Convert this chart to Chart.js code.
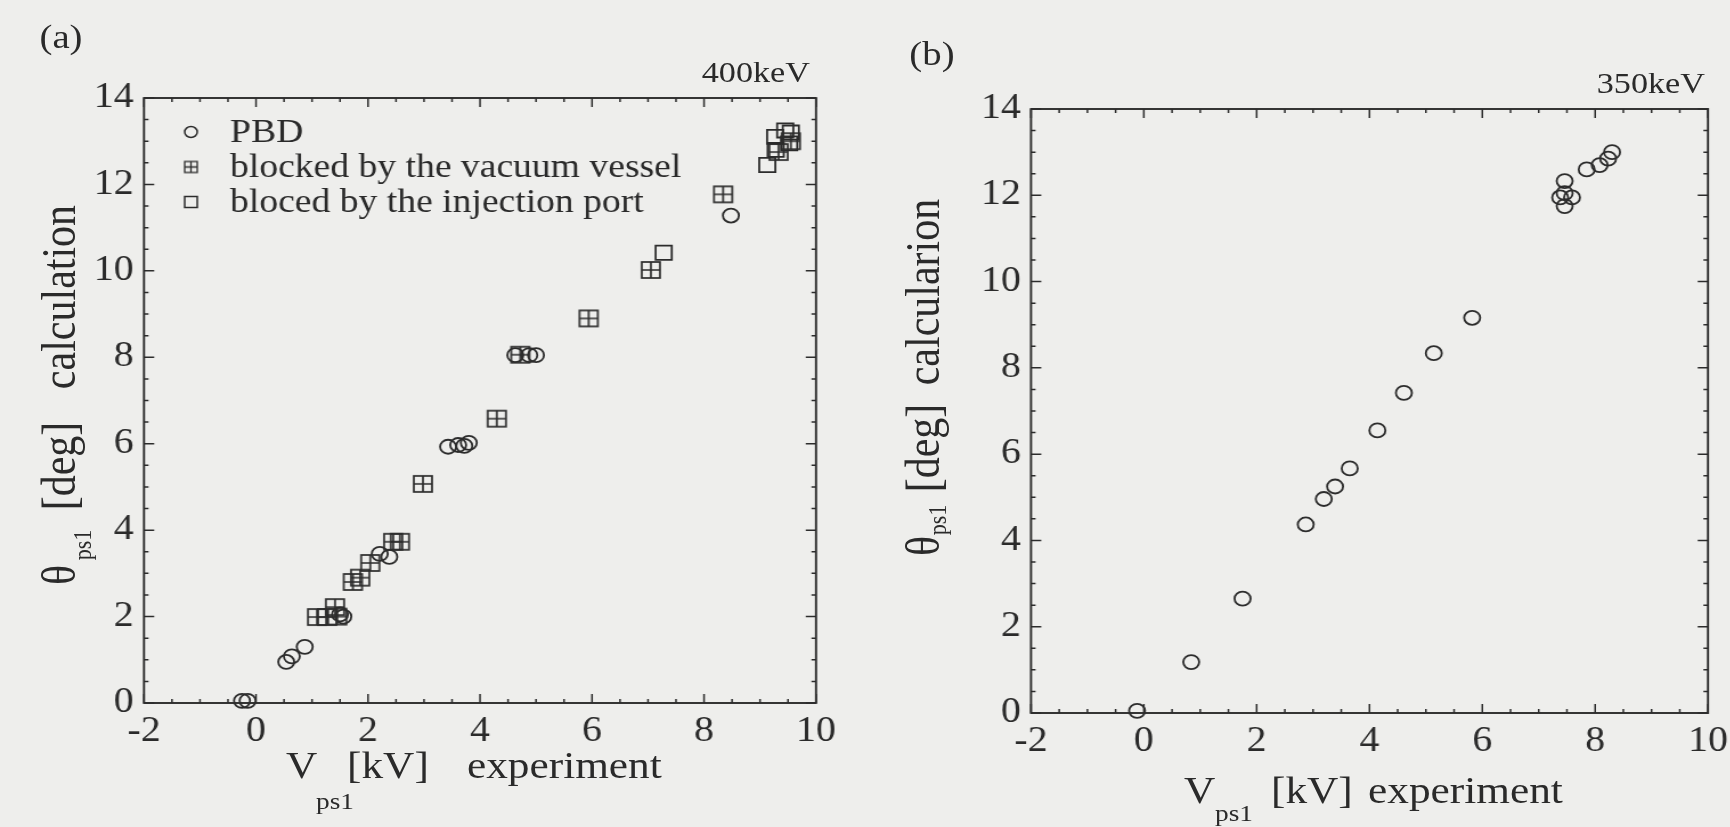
<!DOCTYPE html>
<html>
<head>
<meta charset="utf-8">
<script src="https://cdn.jsdelivr.net/npm/chart.js@4.4.1/dist/chart.umd.min.js"></script>
<style>
html, body { margin: 0; padding: 0; background: #eeeeec; overflow: hidden; }
#wrap { position: absolute; left: 0; top: 0; width: 1518px; height: 827px;
        transform: scaleX(1.14); transform-origin: 0 0;
        font-family: 'Liberation Serif', 'DejaVu Serif', serif; color: #2a2a2a; }
#wrap canvas { position: absolute; top: 0; }
.t { position: absolute; line-height: 1; white-space: nowrap; }
.cc { transform: translate(-50%, -50%); }
.lc { transform: translate(0, -50%); }
.rc { transform: translate(-100%, -50%); }
.rot { transform: translate(-50%, -50%) rotate(-90deg); }
</style>
</head>
<body>
<div id="wrap">
  <canvas id="chartA" width="760" height="827" style="left:0"></canvas>
  <canvas id="chartB" width="780" height="827" style="left:760px"></canvas>

  <div class="t cc" style="left:53.5px; top:37px; font-size:34px">(a)</div>
  <div class="t cc" style="left:817.5px; top:54px; font-size:34px">(b)</div>
  <div class="t rc" style="left:710.5px; top:72px; font-size:30px">400keV</div>
  <div class="t rc" style="left:1495.6px; top:83px; font-size:30px">350keV</div>

  <!-- x titles -->
  <div class="t lc" style="left:250.9px; top:765px; font-size:38px">V</div>
  <div class="t lc" style="left:277.2px; top:801px; font-size:24px">ps1</div>
  <div class="t lc" style="left:304.4px; top:765px; font-size:38px">[kV]</div>
  <div class="t lc" style="left:409.6px; top:765px; font-size:38px">experiment</div>

  <div class="t lc" style="left:1038.6px; top:790px; font-size:38px">V</div>
  <div class="t lc" style="left:1065.8px; top:813px; font-size:24px">ps1</div>
  <div class="t lc" style="left:1114.9px; top:790px; font-size:38px">[kV]</div>
  <div class="t lc" style="left:1200px; top:790px; font-size:38px">experiment</div>

  <!-- y titles -->
  <div class="t rot" style="left:51.6px; top:575px; font-size:42px">θ</div>
  <div class="t rot" style="left:73.3px; top:545px; font-size:22px">ps1</div>
  <div class="t rot" style="left:51.6px; top:466px; font-size:42px">[deg]</div>
  <div class="t rot" style="left:51.6px; top:296.5px; font-size:42px">calculation</div>

  <div class="t rot" style="left:810.4px; top:546px; font-size:42px">θ</div>
  <div class="t rot" style="left:823.3px; top:520px; font-size:22px">ps1</div>
  <div class="t rot" style="left:810.4px; top:448px; font-size:42px">[deg]</div>
  <div class="t rot" style="left:810.4px; top:291.5px; font-size:42px">calcularion</div>
</div>

<script>
// axes
const xTicks = [-2, 0, 2, 4, 6, 8, 10];
const yTicks = [0, 2, 4, 6, 8, 10, 12, 14];

// (a) 400keV
const pbdAX = [-0.25, -0.15, 0.54, 0.64, 0.87, 1.50, 1.56, 2.21, 2.38, 3.43, 3.61, 3.72, 3.80, 4.63, 4.88, 5.00, 8.48];
const pbdAY = [0.05, 0.05, 0.95, 1.08, 1.30, 2.05, 2.00, 3.45, 3.38, 5.93, 5.97, 5.95, 6.02, 8.05, 8.05, 8.05, 11.28];
const vesselAX = [1.09, 1.27, 1.45, 1.41, 1.73, 1.86, 2.04, 2.45, 2.57, 2.98, 4.30, 4.72, 5.94, 7.05, 8.34, 9.33, 9.55];
const vesselAY = [1.99, 1.99, 2.00, 2.22, 2.80, 2.90, 3.24, 3.73, 3.73, 5.07, 6.58, 8.06, 8.90, 10.02, 11.77, 12.75, 13.00];
const portAX = [7.28, 9.13, 9.28, 9.27, 9.45, 9.55, 9.52];
const portAY = [10.42, 12.45, 12.80, 13.10, 13.25, 13.20, 12.95];

// (b) 350keV
const pbdBX = [-0.12, 0.84, 1.75, 2.87, 3.19, 3.39, 3.65, 4.14, 4.61, 5.14, 5.82, 7.46, 7.46, 7.38, 7.59, 7.46, 7.85, 8.08, 8.23, 8.30];
const pbdBY = [0.05, 1.18, 2.65, 4.37, 4.96, 5.25, 5.67, 6.55, 7.42, 8.34, 9.16, 12.33, 12.05, 11.95, 11.95, 11.75, 12.60, 12.70, 12.85, 13.00];

const legendLabels = ['PBD', 'blocked by the vacuum vessel', 'bloced by the injection port'];

const ink = '#2c2c2c';
const textInk = '#2a2a2a';
const serif = "'Liberation Serif', 'DejaVu Serif', serif";
const minorStep = 0.5, majorStep = 2;

function pts(xs, ys) {
    return xs.map((v, i) => ({ x: v, y: ys[i] }));
}

// square with a cross inside
function gridIcon(size, lw) {
    const c = document.createElement('canvas');
    c.width = size + 4;
    c.height = size + 4;
    const g = c.getContext('2d');
    g.strokeStyle = ink;
    g.lineWidth = lw;
    g.strokeRect(2, 2, size, size);
    g.beginPath();
    g.moveTo(2 + size / 2, 2); g.lineTo(2 + size / 2, 2 + size);
    g.moveTo(2, 2 + size / 2); g.lineTo(2 + size, 2 + size / 2);
    g.stroke();
    return c;
}

// frame with inward ticks on all four sides
const frame = {
    id: 'frame',
    beforeDatasetsDraw(chart) {
        const { ctx, chartArea: a, scales: { x, y } } = chart;
        ctx.save();
        ctx.strokeStyle = ink;
        ctx.lineWidth = 1.9;
        ctx.strokeRect(a.left, a.top, a.right - a.left, a.bottom - a.top);
        ctx.lineWidth = 1.5;
        ctx.beginPath();
        for (let v = x.min; v <= x.max + 1e-9; v += minorStep) {
            const p = x.getPixelForValue(v);
            const len = Math.abs(v % majorStep) < 1e-9 ? 9 : 4;
            ctx.moveTo(p, a.bottom); ctx.lineTo(p, a.bottom - len);
            ctx.moveTo(p, a.top); ctx.lineTo(p, a.top + len);
        }
        for (let v = y.min; v <= y.max + 1e-9; v += minorStep) {
            const p = y.getPixelForValue(v);
            const len = Math.abs(v % majorStep) < 1e-9 ? 9 : 4;
            ctx.moveTo(a.left, p); ctx.lineTo(a.left + len, p);
            ctx.moveTo(a.right, p); ctx.lineTo(a.right - len, p);
        }
        ctx.stroke();
        ctx.restore();
    }
};

// legend inside panel (a)
const insideLegend = {
    id: 'insideLegend',
    afterDatasetsDraw(chart) {
        const ctx = chart.ctx;
        const mx = 167.5, tx = 201.8, rows = [132, 167, 202];
        ctx.save();
        ctx.strokeStyle = ink;
        ctx.lineWidth = 1.5;
        ctx.beginPath();
        ctx.arc(mx, rows[0], 5.5, 0, Math.PI * 2);
        ctx.stroke();
        ctx.drawImage(gridIcon(11, 1.3), mx - 7.5, rows[1] - 7.5);
        ctx.strokeRect(mx - 5.5, rows[2] - 5.5, 11, 11);
        ctx.fillStyle = textInk;
        ctx.font = '33px ' + serif;
        ctx.textBaseline = 'middle';
        legendLabels.forEach((t, i) => ctx.fillText(t, tx, rows[i] + 1));
        ctx.restore();
    }
};

function scatterSet(label, xs, ys, style, radius) {
    return {
        label: label,
        data: pts(xs, ys),
        showLine: false,
        clip: false,
        pointStyle: style,
        pointRadius: radius,
        pointHoverRadius: radius,
        pointBorderColor: ink,
        pointBorderWidth: 1.8,
        pointBackgroundColor: 'rgba(0,0,0,0)'
    };
}

function makeChart(id, datasets, pad, yWidth, xHeight, extra) {
    const tickFont = { family: serif, size: 35 };
    return new Chart(document.getElementById(id), {
        type: 'scatter',
        data: { datasets: datasets },
        options: {
            responsive: false,
            animation: false,
            events: [],
            layout: { padding: pad },
            plugins: { legend: { display: false }, tooltip: { enabled: false } },
            scales: {
                x: {
                    type: 'linear', min: -2, max: 10,
                    afterBuildTicks: s => { s.ticks = xTicks.map(v => ({ value: v })); },
                    afterFit: s => { s.height = xHeight; },
                    grid: { display: false, drawTicks: false },
                    border: { display: false },
                    ticks: { font: tickFont, color: textInk, padding: 8, maxRotation: 0, autoSkip: false }
                },
                y: {
                    type: 'linear', min: 0, max: 14,
                    afterBuildTicks: s => { s.ticks = yTicks.map(v => ({ value: v })); },
                    afterFit: s => { s.width = yWidth; },
                    grid: { display: false, drawTicks: false },
                    border: { display: false },
                    ticks: { font: tickFont, color: textInk, padding: 9, autoSkip: false }
                }
            }
        },
        plugins: [frame].concat(extra)
    });
}

const grid16 = gridIcon(16, 1.7);

makeChart('chartA', [
    scatterSet('PBD', pbdAX, pbdAY, 'circle', 7),
    scatterSet('blocked by the vacuum vessel', vesselAX, vesselAY, grid16, 8),
    scatterSet('bloced by the injection port', portAX, portAY, 'rect', 10)
], { left: 0, top: 98, right: 44.2, bottom: 0 }, 126.3, 124, [insideLegend]);

makeChart('chartB', [
    scatterSet('PBD', pbdBX, pbdBY, 'circle', 7)
], { left: 0, top: 109, right: 41.8, bottom: 0 }, 144.4, 114, []);
</script>
</body>
</html>
